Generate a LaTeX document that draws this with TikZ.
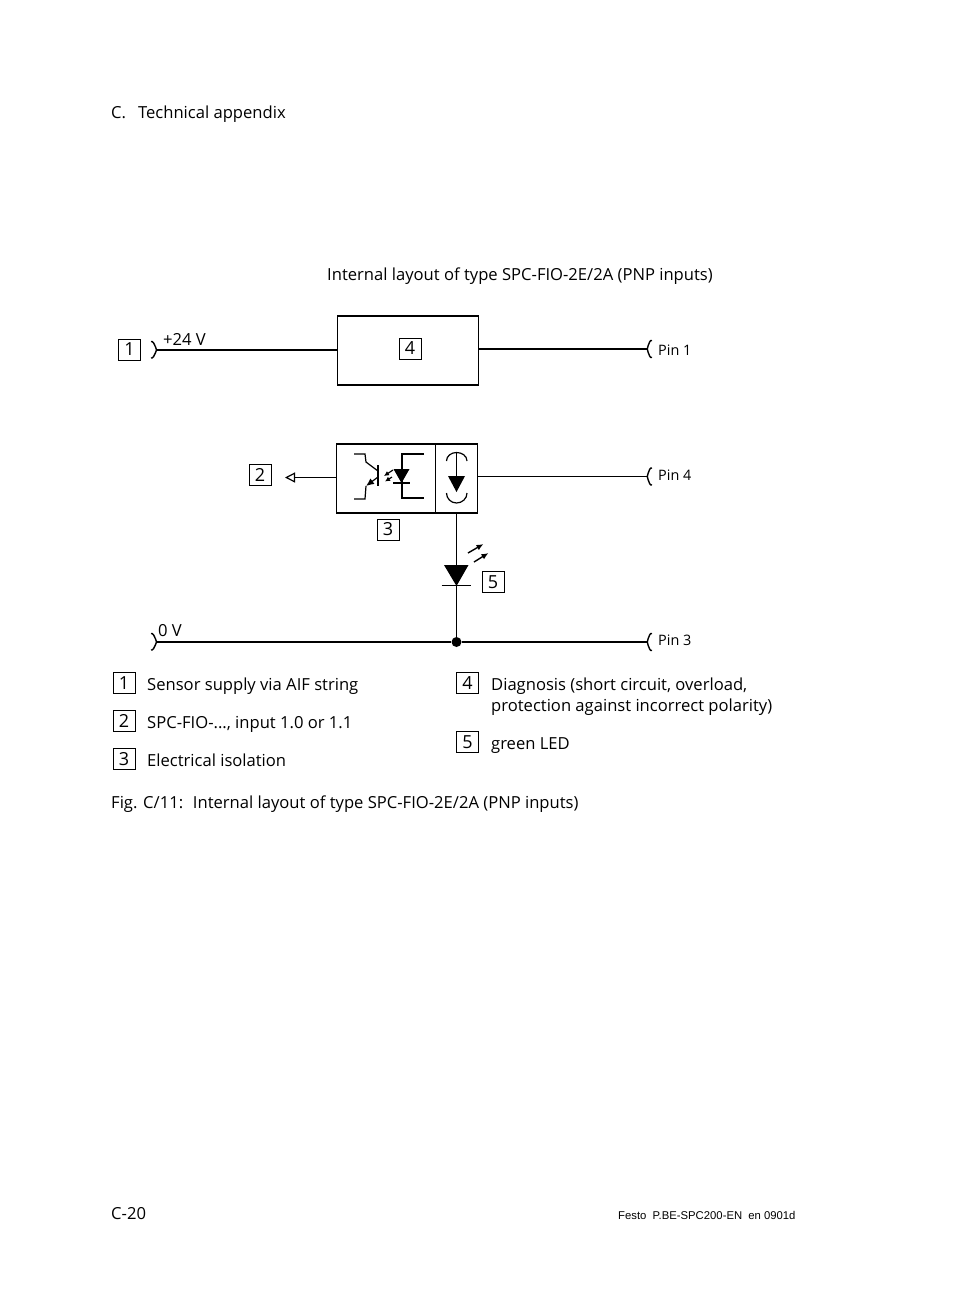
\documentclass[tikz,border=0pt]{standalone}
\usepackage{fontspec}
\setmainfont{Open Sans}
\newfontfamily\footfont{Liberation Sans}
\usetikzlibrary{positioning,calc,arrows.meta}
\tikzset{
	badge/.style={draw, line width=0.9pt, minimum width=22pt, minimum height=21pt, inner sep=0pt, font=\fontsize{18}{20}\selectfont},
	label/.style={anchor=base west, inner sep=0pt, font=\fontsize{16.6}{20}\selectfont},
	small/.style={anchor=base west, inner sep=0pt, font=\fontsize{14.4}{16}\selectfont},
	block/.style={draw, line width=1.2pt, inner sep=0pt},
	wire/.style={line width=1.2pt},
	thick wire/.style={line width=1.4pt},
}
\begin{document}
\begin{tikzpicture}[x=1pt, y=-1pt]
			\useasboundingbox (0,0) rectangle (954,1307);
			% page texts
			\node [label] (head) at (111,118) {C.\hspace{12pt}Technical appendix};
			\node [label] (title) at (327,280) {Internal layout of type SPC-FIO-2E/2A (PNP inputs)};
			\node [label] (page) at (111,1219) {C-20};
			\node [anchor=base west, inner sep=0pt, font=\footfont\fontsize{11.3}{16}\selectfont] (foot) at (618,1219) {Festo\hspace{3pt} P.BE-SPC200-EN\hspace{3pt} en 0901d};
			% blocks
			\node [block, minimum width=141pt, minimum height=69pt] (diag) at (408,350.5) {};
			\node [block, minimum width=99pt, minimum height=69pt] (opto) at (386,478.5) {};
			\node [block, minimum width=42pt, minimum height=69pt, right=-1.2pt of opto] (source) {};
			% free ends
			\coordinate (plus) at (157,350);
			\coordinate (zero) at (157,642);
			\coordinate (pinA) at (647,349);
			\coordinate (pinB) at (647,476.5);
			\coordinate (pinC) at (647,642);
			\coordinate (input) at (285,477.5);
			\node [circle, fill, inner sep=0pt, minimum size=10pt] (joint) at (source.south |- pinC) {};
			% lines
			\draw [wire] (plus) -- (diag.west |- plus);
			\draw [wire] (diag.east |- pinA) -- (pinA);
			\draw [wire] (source.east |- pinB) -- (pinB);
			\draw [wire] (zero) -- (joint) -- (pinC);
			\draw [wire, -{Triangle[open, length=10pt, width=10pt]}] (opto.west |- input) -- (input);
			\draw [wire] (source.south) -- (joint);
			% connector ends
			\draw [thick wire] (151,341.5) to [out=20, in=-90] (157,350) to [out=90, in=-20] (151,358);
			\draw [thick wire] (151,633.5) to [out=20, in=-90] (157,642) to [out=90, in=-20] (151,650);
			\foreach \y in {349,476.5,642} {
				\draw [thick wire] (652,\y-8.5) to [out=160, in=-90] (647,\y) to [out=90, in=-160] (652,\y+8.5);
			}
			% transistor
			\draw [wire] (354,454) -- (365,454) -- (366,462) -- (378,471);
			\draw [thick wire] (378,465) -- (378,486);
			\draw [wire] (354,499) -- (365,499) -- (366,486);
			\draw [wire, -{Latex[length=8pt, width=7pt]}] (378,477) -- (366,486);
			\draw [wire, -{Latex[length=5pt, width=5pt]}] (393,470) -- (384,476);
			\draw [wire, -{Latex[length=5pt, width=5pt]}] (392,477) -- (385,481.5);
			% opto diode
			\fill (393.5,469) -- (409.5,469) -- (401.5,483) -- cycle;
			\draw [wire] (393,483) -- (410,483);
			\draw [wire] (424,454) -- (402,454) -- (402,498) -- (424,498);
			% current source
			\draw [wire] (446.5,461) to [out=90, in=180] (456.5,452.5) to [out=0, in=90] (467,461);
			\draw [wire] (456.5,452.5) -- (456.5,476);
			\fill (448,476) -- (465,476) -- (456.5,492) -- cycle;
			\draw [wire] (446.5,493) to [out=-90, in=180] (456.5,503) to [out=0, in=-90] (467,493);
			% led
			\fill (444,565) -- (468.5,565) -- (456.5,586) -- cycle;
			\draw [wire] (441.5,585.5) -- (470.5,585.5);
			\draw [thick wire, -{Latex[length=7pt, width=6pt]}] (468,553) -- (483.5,544);
			\draw [thick wire, -{Latex[length=7pt, width=6pt]}] (474,562) -- (488.5,553);
			% numbers
			\node [badge] (one) at (129.5,349.5) {1};
			\node [badge] (four) at (410,348.5) {4};
			\node [badge] (two) at (260,474.5) {2};
			\node [badge] (three) at (388,529.5) {3};
			\node [badge] (five) at (493,582) {5};
			% labels
			\node [label] (plustext) at (163,345) {+24 V};
			\node [label] (zerotext) at (158,636) {0 V};
			\node [small] (pinAtext) at (658,355) {Pin 1};
			\node [small] (pinBtext) at (658,480) {Pin 4};
			\node [small] (pinCtext) at (658,645) {Pin 3};
			% legend
			\node [badge] (keyone) at (124,683) {1};
			\node [badge] (keytwo) at (124,721) {2};
			\node [badge] (keythree) at (124,759) {3};
			\node [badge] (keyfour) at (467.5,683) {4};
			\node [badge] (keyfive) at (467.5,742) {5};
			\node [label] (textone) at (147,690) {Sensor supply via AIF string};
			\node [label] (texttwo) at (147,728) {SPC-FIO-..., input 1.0 or 1.1};
			\node [label] (textthree) at (147,766) {Electrical isolation};
			\node [label] (textfour) at (491,690) {Diagnosis (short circuit, overload,};
			\node [label] (textfourb) at (491,711) {protection against incorrect polarity)};
			\node [label] (textfive) at (491,749) {green LED};
			\node [label] (caption) at (111,808) {Fig. C/11:\hspace{4pt} Internal layout of type SPC-FIO-2E/2A (PNP inputs)};
		\end{tikzpicture}
\end{document}
